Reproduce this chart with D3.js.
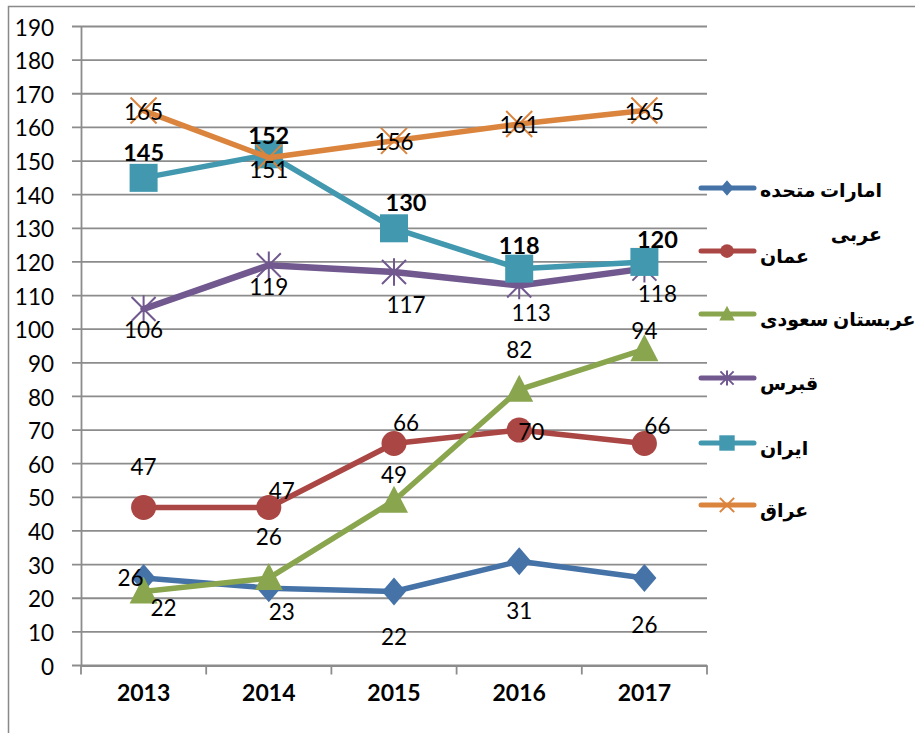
<!DOCTYPE html>
<html>
<head>
<meta charset="utf-8">
<script src="https://cdn.jsdelivr.net/npm/d3@7"></script>
<style>
  body { margin: 0; background: #fff; }
  text { font-family: Lato, "DejaVu Sans", sans-serif; }
</style>
</head>
<body>
<script>
// data
const years = ['2013', '2014', '2015', '2016', '2017']
const seriesNames = ['امارات متحده عربی', 'عمان', 'عربستان سعودی', 'قبرس', 'ایران', 'عراق']
const uae = [26, 23, 22, 31, 26]
const oman = [47, 47, 66, 70, 66]
const saudi = [22, 26, 49, 82, 94]
const cyprus = [106, 119, 117, 113, 118]
const iran = [145, 152, 130, 118, 120]
const iraq = [165, 151, 156, 161, 165]
const yTicks = d3.range(0, 191, 10)

// styling per series
const colors = ['#4572A7', '#AA4643', '#89A54E', '#71588F', '#4198AF', '#DB843D']
const shapes = ['diamond', 'circle', 'triangle', 'star', 'square', 'x']
const allValues = [uae, oman, saudi, cyprus, iran, iraq]
// where each value label sits relative to its point [dx, dy]
const labelNudge = [
  [[-13, 0], [13, 24], [0, 45], [0, 50], [0, 47]],
  [[0, -41], [13, -17], [12, -21], [12, 2], [13, -18]],
  [[20, 16], [0, -41], [0, -26], [0, -40], [0, -18]],
  [[0, 21], [0, 22], [12, 33], [12, 27], [13, 25]],
  [[0, -25], [0, -19], [12, -26], [0, -23], [13, -22]],
  [[0, 1], [0, 12], [0, 1], [0, 1], [0, 1]]
]

const width = 915
const height = 733
const plotLeft = 81, plotRight = 707, plotTop = 26.5, plotBottom = 665.5

const svg = d3.select('body')
  .append('svg')
  .attr('width', width)
  .attr('height', height)

// outer frame
svg.append('rect')
  .attr('x', 8.5).attr('y', 6.5)
  .attr('width', 1000).attr('height', 1000)
  .attr('fill', 'none')
  .attr('stroke', '#898989')
  .attr('stroke-width', 1.5)

const x = d3.scaleBand()
  .domain(years)
  .range([plotLeft, plotRight])

const y = d3.scaleLinear()
  .domain([0, 190])
  .range([plotBottom, plotTop])

const cx = d => x(d) + x.bandwidth() / 2

// gridlines
svg.append('g')
  .selectAll('line')
  .data(yTicks)
  .enter()
  .append('line')
  .attr('x1', plotLeft - 9)
  .attr('x2', plotRight)
  .attr('y1', d => y(d))
  .attr('y2', d => y(d))
  .attr('stroke', '#8c8c8c')
  .attr('stroke-width', 1.8)

// y axis
const yAxis = svg.append('g')
  .attr('transform', `translate(${plotLeft},0)`)
  .call(d3.axisLeft(y).tickValues(yTicks).tickSize(0).tickPadding(27))
yAxis.select('.domain').attr('stroke', '#8c8c8c').attr('stroke-width', 1.8)
yAxis.selectAll('text')
  .attr('font-size', 22.5)
  .attr('font-family', 'Lato')
  .attr('dy', '0.38em')
  .attr('fill', '#000')

// x axis
const xAxis = svg.append('g')
  .attr('transform', `translate(0,${plotBottom})`)
  .call(d3.axisBottom(x).tickSize(0).tickPadding(19))
xAxis.select('.domain').attr('stroke', '#8c8c8c').attr('stroke-width', 1.8)
xAxis.selectAll('text')
  .attr('font-size', 23)
  .attr('font-weight', 'bold')
  .attr('font-family', 'Lato')
  .attr('fill', '#000')

svg.append('g')
  .selectAll('line')
  .data(years.map(d => x(d)).concat([plotRight]))
  .enter()
  .append('line')
  .attr('x1', d => d).attr('x2', d => d)
  .attr('y1', plotBottom).attr('y2', plotBottom + 9)
  .attr('stroke', '#8c8c8c')
  .attr('stroke-width', 1.8)

// marker path generator
function marker(g, shape, color, s) {
  if (shape === 'diamond') {
    g.append('path').attr('d', `M0,${-14 * s}L${12 * s},0L0,${14 * s}L${-12 * s},0Z`).attr('fill', color)
  } else if (shape === 'circle') {
    g.append('circle').attr('r', 12.5 * s).attr('fill', color)
  } else if (shape === 'triangle') {
    g.append('path').attr('d', `M0,${-15 * s}L${14 * s},${12 * s}L${-14 * s},${12 * s}Z`).attr('fill', color)
  } else if (shape === 'square') {
    g.append('rect').attr('x', -14 * s).attr('y', -14 * s)
      .attr('width', 28 * s).attr('height', 28 * s).attr('fill', color)
  } else if (shape === 'star') {
    const a = 12 * s
    g.append('path')
      .attr('d', `M${-a},${-a}L${a},${a}M${a},${-a}L${-a},${a}M0,${-a * 1.15}L0,${a * 1.15}`)
      .attr('stroke', color).attr('stroke-width', 2).attr('fill', 'none')
  } else if (shape === 'x') {
    const a = 13 * s
    g.append('path')
      .attr('d', `M${-a},${-a}L${a},${a}M${a},${-a}L${-a},${a}`)
      .attr('stroke', color).attr('stroke-width', 2).attr('fill', 'none')
  }
}

const line = d3.line()
  .x((d, i) => cx(years[i]))
  .y(d => y(d))

const lineWidths = [5.5, 5.5, 5.5, 6.5, 5.5, 5.5]

allValues.forEach((vals, si) => {
  const g = svg.append('g')
  g.append('path')
    .attr('d', line(vals))
    .attr('fill', 'none')
    .attr('stroke', colors[si])
    .attr('stroke-width', lineWidths[si])
    .attr('stroke-linejoin', 'round')
    .attr('stroke-linecap', 'round')
  vals.forEach((v, i) => {
    const m = g.append('g').attr('transform', `translate(${cx(years[i])},${y(v)})`)
    marker(m, shapes[si], colors[si], 1)
  })
})

// value labels
allValues.forEach((vals, si) => {
  svg.append('g')
    .selectAll('text')
    .data(vals)
    .enter()
    .append('text')
    .attr('x', (d, i) => cx(years[i]) + labelNudge[si][i][0])
    .attr('y', (d, i) => y(d) + labelNudge[si][i][1])
    .attr('dy', '0.36em')
    .attr('text-anchor', 'middle')
    .attr('font-size', si === 4 ? 23.5 : 22.5)
    .attr('font-weight', si === 4 ? 'bold' : 'normal')
    .attr('fill', '#000')
    .text(d => d)
})

// legend
const legendY = [188, 251, 314, 378, 443, 505]
const legendFont = 19
const legend = svg.append('g')
seriesNames.forEach((name, si) => {
  const g = legend.append('g').attr('transform', `translate(0,${legendY[si]})`)
  g.append('line')
    .attr('x1', 701).attr('x2', 754)
    .attr('stroke', colors[si])
    .attr('stroke-width', 5)
    .attr('stroke-linecap', 'round')
  const m = g.append('g').attr('transform', 'translate(727,0)')
  marker(m, shapes[si], colors[si], 0.55)
  if (si === 0) {
    g.append('text')
      .attr('x', 760).attr('y', 2).attr('dy', '0.35em')
      .attr('font-family', 'DejaVu Sans').attr('font-weight', 'bold').attr('font-size', legendFont)
      .text('امارات متحده')
    g.append('text')
      .attr('x', 882).attr('y', 46).attr('dy', '0.35em')
      .attr('text-anchor', 'end')
      .attr('font-family', 'DejaVu Sans').attr('font-weight', 'bold').attr('font-size', legendFont)
      .text('عربی')
  } else {
    g.append('text')
      .attr('x', 760).attr('y', 5).attr('dy', '0.35em')
      .attr('font-family', 'DejaVu Sans').attr('font-weight', 'bold').attr('font-size', legendFont)
      .text(name)
  }
})
</script>
</body>
</html>
